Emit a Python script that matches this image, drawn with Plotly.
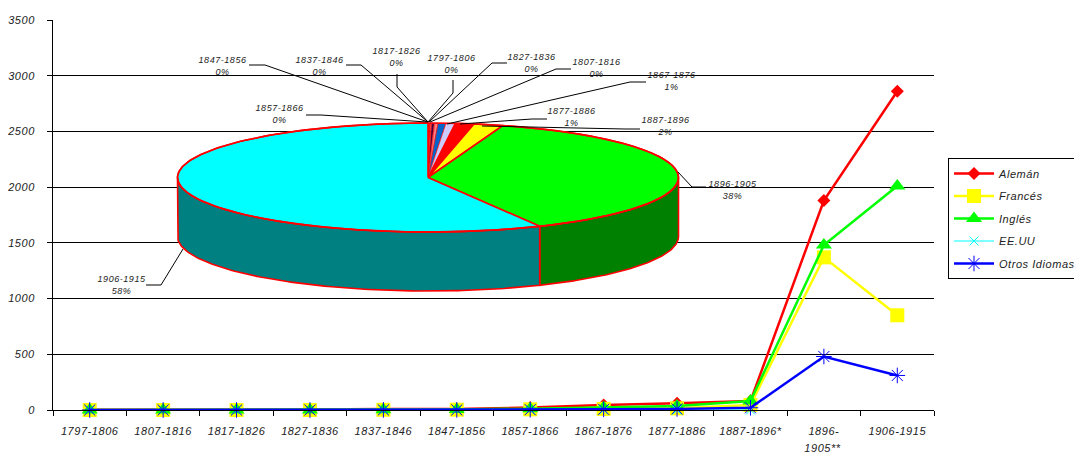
import numpy as np
import plotly.graph_objects as go

categories = ["1797-1806", "1807-1816", "1817-1826", "1827-1836", "1837-1846", "1847-1856",
              "1857-1866", "1867-1876", "1877-1886", "1887-1896*", "1896-1905**", "1906-1915"]
tick_labels = ["1797-1806", "1807-1816", "1817-1826", "1827-1836", "1837-1846", "1847-1856",
               "1857-1866", "1867-1876", "1877-1886", "1887-1896*", "1896-", "1906-1915"]
aleman = [2, 2, 1, 5, 10, 10, 22, 45, 60, 80, 1880, 2860]
frances = [0, 0, 0, 0, 2, 3, 6, 10, 15, 45, 1370, 850]
ingles = [0, 0, 0, 1, 3, 5, 12, 22, 35, 80, 1480, 2010]
eeuu = [0, 0, 0, 0, 0, 0, 0, 0, 0, 0, None, None]
otros = [0, 0, 0, 0, 1, 1, 3, 6, 10, 20, 480, 310]

pie_labels = ["1797-1806", "1807-1816", "1817-1826", "1827-1836", "1837-1846", "1847-1856",
              "1857-1866", "1867-1876", "1877-1886", "1887-1896", "1896-1905", "1906-1915"]
pie_shares = [0.06, 0.03, 0.03, 0.08, 0.2, 0.25, 0.5, 0.6, 1.2, 1.9, 37.9, 57.5]
pie_text = ["0%", "0%", "0%", "0%", "0%", "0%", "0%", "1%", "1%", "2%", "38%", "58%"]
pie_colors = ["#9999FF", "#993366", "#FFFFCC", "#CCFFFF", "#400040", "#FF8080",
              "#0066CC", "#CCCCFF", "#FF0000", "#FFFF00", "#00FF00", "#00FFFF"]
side_colors = ["#4C4C80", "#4C1933", "#808066", "#668080", "#200020", "#804040",
               "#003366", "#666680", "#800000", "#808000", "#008000", "#008080"]

# Pie geometry in page pixels (the hidden overlay axes span the plot area in pixels)
CX, CY, RX, RY, DEPTH = 428, 177.5, 250.5, 54.5, 59
EDGE = "#FF0000"

# Label layout: centre x, first-line y, and the leader polyline
label_layout = {
    "1847-1856": (222, 59, [(249, 65), (265, 65), (428, 122)]),
    "1837-1846": (319, 59, [(346, 65), (361, 65), (428, 122)]),
    "1817-1826": (396, 50, [(397, 74), (397, 87), (428, 122)]),
    "1797-1806": (451, 57, [(453, 80), (453, 93), (428, 122)]),
    "1827-1836": (531, 56, [(507, 63), (492, 63), (429, 122)]),
    "1807-1816": (596, 61, [(571, 69), (556, 69), (430, 122)]),
    "1867-1876": (671, 74, [(646, 82), (630, 82), (447, 124)]),
    "1857-1866": (279, 107, [(306, 115), (321, 115), (427, 122)]),
    "1877-1886": (571, 110, [(547, 119), (532, 119), (460, 124)]),
    "1887-1896": (665, 119, [(640, 129), (625, 129), (482, 126)]),
    "1896-1905": (733, 183, [(706, 187), (692, 187), (678, 172)]),
    "1906-1915": (122, 278, [(146, 285), (161, 285), (183, 249)]),
}

FONT = "Liberation Sans, Arial, sans-serif"
TXT = "#222222"
fig = go.Figure()


def ell(theta):
    return CX + RX * np.sin(theta), CY - RY * np.cos(theta)


shares = np.array(pie_shares, dtype=float)
edges = np.concatenate([[0], np.cumsum(shares)]) / shares.sum() * 2 * np.pi

# Side wall: only the front half of the rim is visible
for i in range(len(shares)):
    a, b = max(edges[i], np.pi / 2), min(edges[i + 1], 3 * np.pi / 2)
    if b <= a:
        continue
    t = np.linspace(a, b, 120)
    x, y = ell(t)
    fig.add_trace(go.Scatter(
        x=np.concatenate([x, x[::-1], x[:1]]),
        y=np.concatenate([y, y[::-1] + DEPTH, y[:1]]),
        xaxis="x2", yaxis="y2", mode="lines", fill="toself", fillcolor=side_colors[i],
        line=dict(color=EDGE, width=1.6), showlegend=False, hoverinfo="skip"))

# Top face
for i in range(len(shares)):
    t = np.linspace(edges[i], edges[i + 1], 200 if shares[i] > 5 else 8)
    x, y = ell(t)
    fig.add_trace(go.Scatter(
        x=np.concatenate([[CX], x, [CX]]), y=np.concatenate([[CY], y, [CY]]),
        xaxis="x2", yaxis="y2", mode="lines", fill="toself", fillcolor=pie_colors[i],
        line=dict(color=EDGE, width=1.6 if shares[i] > 1 else 0.6),
        name=pie_labels[i], showlegend=False, hoverinfo="skip"))

# Outer rim of the top face drawn once more so it stays unbroken
t = np.linspace(0, 2 * np.pi, 400)
x, y = ell(t)
fig.add_trace(go.Scatter(x=x, y=y, xaxis="x2", yaxis="y2", mode="lines",
                         line=dict(color=EDGE, width=1.6), showlegend=False, hoverinfo="skip"))

series = [
    ("Alemán", aleman, "#FF0000", dict(symbol="diamond", size=10, color="#FF0000")),
    ("Francés", frances, "#FFFF00", dict(symbol="square", size=14, color="#FFFF00")),
    ("Inglés", ingles, "#00FF00", dict(symbol="triangle-up", size=14, color="#00FF00")),
    ("EE.UU", eeuu, "#00FFFF", dict(symbol="x-thin-open", size=9, color="#00FFFF", line=dict(color="#00FFFF", width=1))),
    # Trailing no-break spaces widen the legend box so that it runs off the picture, as in the reference
    ("Otros Idiomas\u00a0\u00a0\u00a0\u00a0", otros, "#0000FF", dict(symbol="asterisk-open", size=13, color="#0000FF", line=dict(color="#0000FF", width=1))),
]
for name, vals, col, mk in series:
    lw = 1 if name == "EE.UU" else 2.5
    fig.add_trace(go.Scatter(x=categories, y=vals, name=name, mode="lines+markers",
                             line=dict(color=col, width=lw), marker=mk, cliponaxis=False,
                             legendgroup=name, connectgaps=False))

shapes, annos = [], []
for lab, txt in zip(pie_labels, pie_text):
    cx, y0, pts = label_layout[lab]
    path = "M" + " L".join(f"{a},{b}" for a, b in pts)
    shapes.append(dict(type="path", path=path, xref="x2", yref="y2", line=dict(color="#000000", width=1)))
    annos.append(dict(x=cx, y=y0 - 6, xref="x2", yref="y2", text=f"{lab}<br>{txt}", showarrow=False,
                      xanchor="center", yanchor="top", font=dict(family=FONT, size=9, style="italic", color=TXT)))
# Second line of the wrapped category label
annos.append(dict(x=(823 - 53) / 881, y=(410 - 448) / 390, xref="paper", yref="paper", text="1905**",
                  showarrow=False, xanchor="center", yanchor="middle",
                  font=dict(family=FONT, size=11, style="italic", color=TXT)))

# The legend box of the reference runs off the right side of the picture, so the
# figure is a little wider than the window and the page hides the overflow.
fig.update_layout(
    width=1110, height=455, autosize=False,
    margin=dict(l=53, r=176, t=20, b=45, pad=0, autoexpand=False),
    paper_bgcolor="#FFFFFF", plot_bgcolor="#FFFFFF",
    font=dict(family=FONT, size=11, color=TXT),
    shapes=shapes, annotations=annos,
    xaxis=dict(type="category", categoryorder="array", categoryarray=categories, tickson="boundaries",
               tickmode="array", tickvals=categories, ticktext=tick_labels,
               range=[-0.5, 11.5], ticks="outside", ticklen=5, tickcolor="#000000", tickwidth=1,
               showline=True, linecolor="#000000", linewidth=1, showgrid=False, zeroline=False, tickangle=0,
               tickfont=dict(family=FONT, size=11, style="italic", color=TXT), ticklabelstandoff=11),
    yaxis=dict(range=[0, 3500], tick0=0, dtick=500, ticks="outside", ticklen=5, tickcolor="#000000", tickwidth=1,
               showline=True, linecolor="#000000", linewidth=1, showgrid=True, gridcolor="#000000", gridwidth=1,
               zeroline=False, tickformat="d",
               tickfont=dict(family=FONT, size=11, style="italic", color=TXT), ticklabelstandoff=10),
    xaxis2=dict(overlaying="x", anchor="y2", range=[53, 934], visible=False, fixedrange=True),
    yaxis2=dict(overlaying="y", anchor="x2", range=[410, 20], visible=False, fixedrange=True),
    legend=dict(x=(948 - 53) / 881, y=(410 - 158) / 390, xanchor="left", yanchor="top",
                bordercolor="#000000", borderwidth=1, bgcolor="#FFFFFF", itemwidth=40,
                tracegroupgap=3.5,
                font=dict(family=FONT, size=11, style="italic", color=TXT)),
    hovermode=False,
)

post = """
document.body.style.margin='0';
document.documentElement.style.overflow='hidden';
document.body.style.overflow='hidden';
var s=document.createElement('style');
s.textContent='.main-svg text{letter-spacing:.55px}';
document.head.appendChild(s);
"""
fig.write_html("out.html", post_script=post, config={"displayModeBar": False})
